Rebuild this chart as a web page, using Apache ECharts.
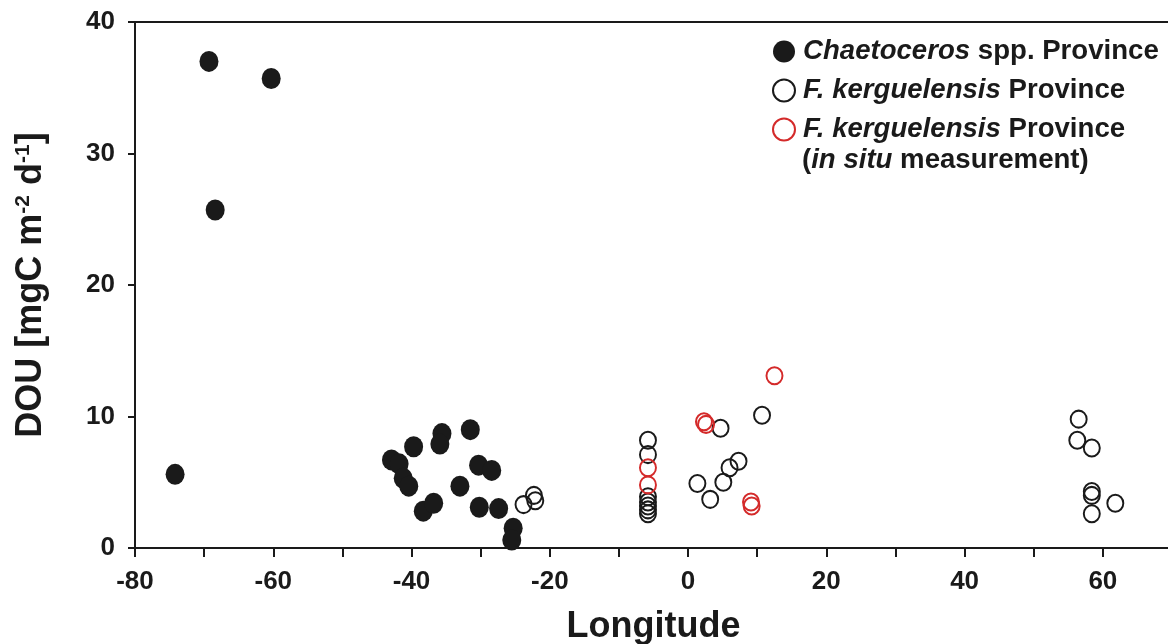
<!DOCTYPE html>
<html>
<head>
<meta charset="utf-8">
<script src="https://cdn.jsdelivr.net/npm/echarts@6/dist/echarts.min.js"></script>
<style>html,body{margin:0;padding:0;background:#fff;}#c{width:1168px;height:644px;}</style>
</head>
<body>
<div id="c"></div>
<script>
// Chaetoceros spp. Province (filled)
const chaetX = [-69.3, -60.3, -68.4, -74.2, -42.9, -41.8, -39.7, -41.2, -40.4, -38.3, -36.8, -35.6, -35.9, -31.5, -30.3, -28.4, -33.0, -30.2, -27.4, -25.3, -25.5];
const chaetY = [37.0, 35.7, 25.7, 5.6, 6.7, 6.4, 7.7, 5.3, 4.7, 2.8, 3.4, 8.7, 7.9, 9.0, 6.3, 5.9, 4.7, 3.1, 3.0, 1.5, 0.6];
// F. kerguelensis Province (open black)
const kergX = [-23.8, -22.3, -22.1, -5.8, -5.8, -5.8, -5.8, -5.8, -5.8, -5.8, 1.35, 3.2, 4.7, 5.1, 6.0, 7.3, 10.7, 56.5, 56.3, 58.4, 58.4, 58.4, 58.4, 61.8];
const kergY = [3.3, 4.0, 3.6, 8.2, 7.1, 3.9, 3.5, 3.2, 2.9, 2.6, 4.9, 3.7, 9.1, 5.0, 6.1, 6.6, 10.1, 9.8, 8.2, 7.6, 4.3, 4.0, 2.6, 3.4];
// F. kerguelensis Province, in situ measurement (open red)
const insituX = [2.3, 2.6, 12.5, 9.1, 9.2, -5.8, -5.8];
const insituY = [9.6, 9.4, 13.1, 3.5, 3.2, 6.1, 4.8];

const xTicks = [-80, -60, -40, -20, 0, 20, 40, 60];
const yTicks = [0, 10, 20, 30, 40];

const names = ['Chaetoceros spp. Province', 'F. kerguelensis Province', 'F. kerguelensis Province (in situ measurement)'];

const zip = (xs, ys) => xs.map((x, i) => [x, ys[i]]);
const FONT = '"Liberation Sans", Arial, sans-serif';
const INK = '#1a1a1a';
const RED = '#d42a2a';
const LFS = 27.6;

const chart = echarts.init(document.getElementById('c'), null, {renderer: 'canvas'});
chart.setOption({
  animation: false,
  backgroundColor: '#fff',
  textStyle: {fontFamily: FONT},
  grid: {left: 135, width: 1037, top: 22, bottom: 96, containLabel: false, outerBoundsMode: 'none'},
  xAxis: [{
    type: 'value', min: -80, max: 70, interval: 10,
    name: 'Longitude', nameLocation: 'middle', nameGap: 61,
    nameTextStyle: {fontFamily: FONT, fontSize: 36, fontWeight: 'bold', color: INK},
    axisLine: {show: true, onZero: false, lineStyle: {color: INK, width: 2}},
    axisTick: {show: true, inside: false, length: 9, lineStyle: {color: INK, width: 2}},
    axisLabel: {margin: 21, fontFamily: FONT, fontSize: 26, fontWeight: 'bold', color: INK,
      formatter: v => (xTicks.indexOf(v) >= 0 ? String(v) : '')},
    splitLine: {show: false}
  }, {
    type: 'value', position: 'top', min: -80, max: 70,
    axisLine: {show: true, onZero: false, lineStyle: {color: INK, width: 2}},
    axisTick: {show: false}, axisLabel: {show: false}, splitLine: {show: false}
  }],
  yAxis: {
    type: 'value', min: 0, max: 40, interval: 10,
    name: 'DOU [mgC m{s|-2} d{s|-1}]', nameLocation: 'middle', nameGap: 86,
    nameTextStyle: {fontFamily: FONT, fontSize: 36, fontWeight: 'bold', color: INK,
      rich: {s: {fontFamily: FONT, fontSize: 21, fontWeight: 'bold', color: INK, verticalAlign: 'top', padding: [0, 0, 15, 0]}}},
    axisLine: {show: true, onZero: false, lineStyle: {color: INK, width: 2}},
    axisTick: {show: true, inside: false, length: 7, lineStyle: {color: INK, width: 2}},
    axisLabel: {margin: 20, fontFamily: FONT, fontSize: 26, fontWeight: 'bold', color: INK,
      formatter: v => (yTicks.indexOf(v) >= 0 ? String(v) : '')},
    splitLine: {show: false}
  },
  legend: {
    orient: 'vertical', left: 767, top: 31, itemGap: 8,
    itemWidth: 28, itemHeight: 22, selectedMode: false,
    data: [
      {name: names[0], icon: 'circle', itemStyle: {color: INK, borderWidth: 0}},
      {name: names[1], icon: 'circle', itemStyle: {color: '#fff', borderColor: INK, borderWidth: 2}},
      {name: names[2], icon: 'circle', itemStyle: {color: '#fff', borderColor: RED, borderWidth: 2}}
    ],
    formatter: n => n === names[0] ? '{i|Chaetoceros}{b| spp. Province}' : '{i|F. kerguelensis}{b| Province}',
    textStyle: {
      fontFamily: FONT, fontSize: LFS, fontWeight: 'bold', color: INK, lineHeight: 31,
      rich: {
        i: {fontFamily: FONT, fontSize: LFS, fontWeight: 'bold', fontStyle: 'italic', color: INK, lineHeight: 31},
        b: {fontFamily: FONT, fontSize: LFS, fontWeight: 'bold', color: INK, lineHeight: 31}
      }
    }
  },
  graphic: [{
    type: 'text', left: 802, top: 146, silent: true,
    style: {
      text: '({i|in situ}{b| measurement)}',
      fontFamily: FONT, fontSize: LFS, fontWeight: 'bold', fill: INK,
      rich: {
        i: {fontFamily: FONT, fontSize: LFS, fontWeight: 'bold', fontStyle: 'italic', fill: INK},
        b: {fontFamily: FONT, fontSize: LFS, fontWeight: 'bold', fill: INK}
      }
    }
  }],
  series: [{
    name: names[0], type: 'scatter', symbol: 'circle', symbolSize: [19, 21],
    itemStyle: {color: INK, opacity: 1},
    data: zip(chaetX, chaetY)
  }, {
    name: names[1], type: 'scatter', symbol: 'circle', symbolSize: [16, 17],
    itemStyle: {color: 'rgba(255,255,255,0)', borderColor: INK, borderWidth: 2, opacity: 1},
    data: zip(kergX, kergY)
  }, {
    name: names[2], type: 'scatter', symbol: 'circle', symbolSize: [16, 17],
    itemStyle: {color: 'rgba(255,255,255,0)', borderColor: RED, borderWidth: 2, opacity: 1},
    data: zip(insituX, insituY)
  }]
});
</script>
</body>
</html>
